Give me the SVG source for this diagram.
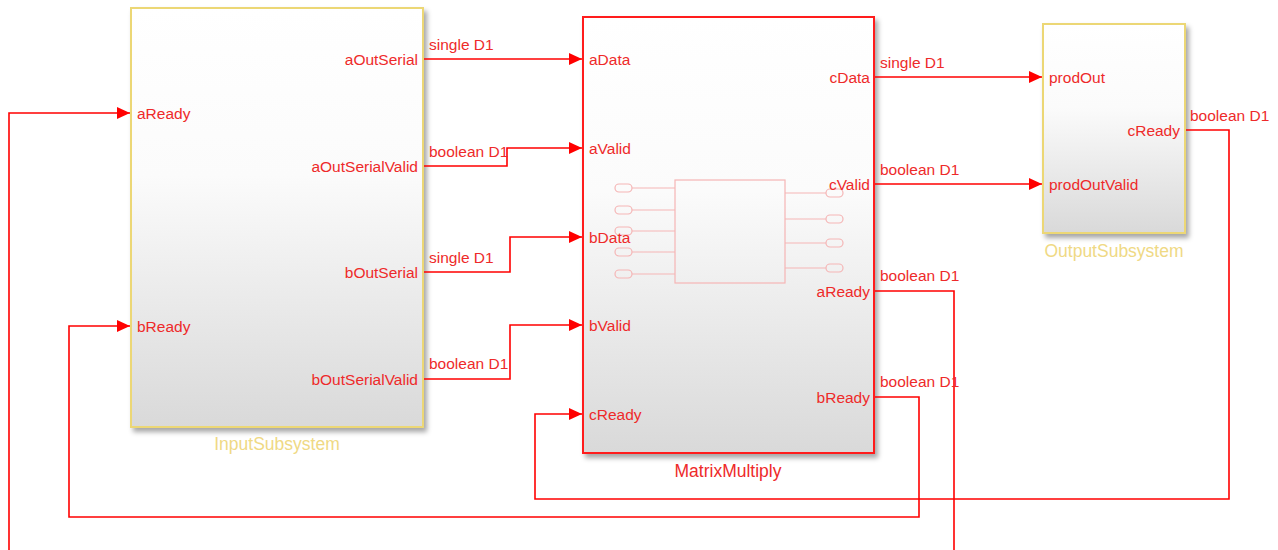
<svg xmlns="http://www.w3.org/2000/svg" width="1278" height="550" viewBox="0 0 1278 550">
<defs>
<linearGradient id="gfill" x1="0" y1="0" x2="0" y2="1">
<stop offset="0" stop-color="#ffffff"/>
<stop offset="0.4" stop-color="#fbfbfb"/>
<stop offset="1" stop-color="#d9d9d9"/>
</linearGradient>
<filter id="shadow" x="-10%" y="-10%" width="130%" height="130%">
<feDropShadow dx="3" dy="4" stdDeviation="2.5" flood-color="#000" flood-opacity="0.35"/>
</filter>
<marker id="arr" markerWidth="13" markerHeight="12" refX="13" refY="6" orient="auto" markerUnits="userSpaceOnUse">
<path d="M0,0 L13,6 L0,12 Z" fill="#ff0000"/>
</marker>
</defs>
<style>
.blk-y{fill:url(#gfill);stroke:#ecd774;stroke-width:2;filter:url(#shadow)}
.blk-r{fill:url(#gfill);stroke:#ff1a1a;stroke-width:2;filter:url(#shadow)}
.pl{font-family:"Liberation Sans",Arial,sans-serif;font-size:15.5px;fill:#ee2a2a}
.pr{font-family:"Liberation Sans",Arial,sans-serif;font-size:15.5px;fill:#ee2a2a;text-anchor:end}
.el{font-family:"Liberation Sans",Arial,sans-serif;font-size:15.5px;fill:#ee2a2a}
.name-y{font-family:"Liberation Sans",Arial,sans-serif;font-size:17.5px;fill:#efd984;text-anchor:middle}
.name-r{font-family:"Liberation Sans",Arial,sans-serif;font-size:17.5px;fill:#ee2a2a;text-anchor:middle}
.wire{fill:none;stroke:#ff0000;stroke-width:1.6}
.ico{fill:none;stroke:#f5b5b5;stroke-width:1.2}
</style>
<rect width="1278" height="550" fill="#ffffff"/>

<g id="InputSubsystem">
<rect class="blk-y" x="131" y="8" width="292" height="419"/>
<text class="pl" x="137" y="119">aReady</text>
<text class="pl" x="137" y="332">bReady</text>
<text class="pr" x="418" y="65">aOutSerial</text>
<text class="pr" x="418" y="172">aOutSerialValid</text>
<text class="pr" x="418" y="278">bOutSerial</text>
<text class="pr" x="418" y="385">bOutSerialValid</text>
<text class="name-y" x="277" y="450">InputSubsystem</text>
</g>

<g id="MatrixMultiply">
<rect class="blk-r" x="583" y="17" width="291" height="436"/>
<g id="mm-icon">
<rect class="ico" x="675" y="180" width="110" height="103"/>
<rect class="ico" x="615" y="184" width="17" height="8" rx="4"/>
<rect class="ico" x="615" y="206" width="17" height="8" rx="4"/>
<rect class="ico" x="615" y="227" width="17" height="8" rx="4"/>
<rect class="ico" x="615" y="248" width="17" height="8" rx="4"/>
<rect class="ico" x="615" y="270" width="17" height="8" rx="4"/>
<path class="ico" d="M632,188H675M632,210H675M632,231H675M632,252H675M632,274H675"/>
<rect class="ico" x="826" y="189" width="17" height="8" rx="4"/>
<rect class="ico" x="826" y="215" width="17" height="8" rx="4"/>
<rect class="ico" x="826" y="239" width="17" height="8" rx="4"/>
<rect class="ico" x="826" y="264" width="17" height="8" rx="4"/>
<path class="ico" d="M785,193H826M785,219H826M785,243H826M785,268H826"/>
</g>
<text class="pl" x="589" y="65">aData</text>
<text class="pl" x="589" y="154">aValid</text>
<text class="pl" x="589" y="243">bData</text>
<text class="pl" x="589" y="331">bValid</text>
<text class="pl" x="589" y="420">cReady</text>
<text class="pr" x="870" y="83">cData</text>
<text class="pr" x="870" y="190">cValid</text>
<text class="pr" x="870" y="297">aReady</text>
<text class="pr" x="870" y="403">bReady</text>
<text class="name-r" x="728" y="477">MatrixMultiply</text>
</g>

<g id="OutputSubsystem">
<rect class="blk-y" x="1043" y="24" width="142" height="209"/>
<text class="pl" x="1049" y="83">prodOut</text>
<text class="pl" x="1049" y="190">prodOutValid</text>
<text class="pr" x="1180" y="136">cReady</text>
<text class="name-y" x="1114" y="257">OutputSubsystem</text>
</g>

<g id="connectors">
<path class="wire" marker-end="url(#arr)" d="M424,59H582"/>
<path class="wire" marker-end="url(#arr)" d="M424,166H507V148H582"/>
<path class="wire" marker-end="url(#arr)" d="M424,272H510V237H582"/>
<path class="wire" marker-end="url(#arr)" d="M424,379H510V325H582"/>
<path class="wire" marker-end="url(#arr)" d="M875,77H1042"/>
<path class="wire" marker-end="url(#arr)" d="M875,184H1042"/>
<path class="wire" marker-end="url(#arr)" d="M875,291H954V570H9V113H130"/>
<path class="wire" marker-end="url(#arr)" d="M875,397H919V517H69V326H130"/>
<path class="wire" marker-end="url(#arr)" d="M1186,130H1229V499H535V414H582"/>
<text class="el" x="429" y="50">single D1</text>
<text class="el" x="429" y="157">boolean D1</text>
<text class="el" x="429" y="263">single D1</text>
<text class="el" x="429" y="369">boolean D1</text>
<text class="el" x="880" y="68">single D1</text>
<text class="el" x="880" y="175">boolean D1</text>
<text class="el" x="880" y="281">boolean D1</text>
<text class="el" x="880" y="387">boolean D1</text>
<text class="el" x="1190" y="121">boolean D1</text>
</g>
</svg>
